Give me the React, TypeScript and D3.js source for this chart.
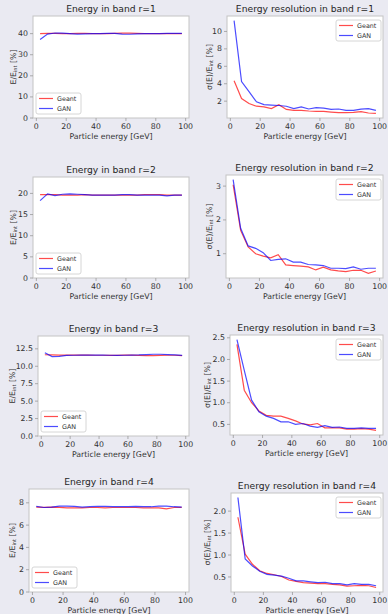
import * as d3 from "d3";

// particle energy bins [GeV]
const energies = [2.5, 7.5, 12.5, 17.5, 22.5, 27.5, 32.5, 37.5, 42.5, 47.5, 52.5, 57.5, 62.5, 67.5, 72.5, 77.5, 82.5, 87.5, 92.5, 97.5];
const xTicks = [0, 20, 40, 60, 80, 100];

// mean energy fraction in band [%]
const geantMean1 = [40.0, 40.1, 40.1, 40.0, 40.0, 40.1, 40.1, 40.0, 40.0, 40.0, 40.1, 40.2, 40.2, 40.1, 40.0, 40.0, 40.0, 40.0, 40.0, 40.0];
const ganMean1 = [37.2, 39.8, 40.3, 40.2, 40.0, 39.8, 39.9, 40.0, 40.0, 40.1, 40.1, 39.8, 39.7, 39.9, 40.0, 40.0, 40.0, 40.1, 40.1, 40.1];
const geantMean2 = [19.7, 19.7, 19.7, 19.6, 19.6, 19.6, 19.7, 19.6, 19.6, 19.6, 19.6, 19.6, 19.6, 19.6, 19.7, 19.7, 19.7, 19.6, 19.6, 19.6];
const ganMean2 = [18.3, 19.9, 19.5, 19.8, 19.9, 19.8, 19.7, 19.6, 19.6, 19.6, 19.6, 19.7, 19.7, 19.6, 19.6, 19.6, 19.6, 19.4, 19.6, 19.6];
const geantMean3 = [11.65, 11.62, 11.6, 11.6, 11.6, 11.6, 11.6, 11.58, 11.58, 11.57, 11.57, 11.6, 11.6, 11.55, 11.52, 11.52, 11.55, 11.58, 11.58, 11.52];
const ganMean3 = [11.95, 11.38, 11.42, 11.55, 11.58, 11.6, 11.6, 11.6, 11.6, 11.58, 11.55, 11.58, 11.6, 11.62, 11.68, 11.72, 11.72, 11.68, 11.62, 11.55];
const geantMean4 = [7.62, 7.6, 7.62, 7.6, 7.55, 7.55, 7.55, 7.58, 7.58, 7.55, 7.58, 7.58, 7.58, 7.58, 7.55, 7.55, 7.55, 7.45, 7.58, 7.6];
const ganMean4 = [7.68, 7.58, 7.62, 7.7, 7.7, 7.68, 7.62, 7.65, 7.68, 7.68, 7.65, 7.65, 7.65, 7.68, 7.65, 7.65, 7.7, 7.7, 7.65, 7.62];

// energy resolution in band [%]
const geantRes1 = [4.33, 2.3, 1.73, 1.42, 1.35, 1.15, 1.6, 1.05, 0.95, 0.95, 0.87, 0.83, 0.83, 0.75, 0.68, 0.68, 0.72, 0.8, 0.64, 0.6];
const ganRes1 = [11.24, 4.25, 3.1, 1.92, 1.6, 1.55, 1.5, 1.42, 1.15, 1.35, 1.1, 1.25, 1.2, 1.05, 1.1, 0.95, 0.95, 1.08, 1.15, 0.95];
const geantRes2 = [3.04, 1.69, 1.2, 1.0, 0.93, 0.88, 0.97, 0.67, 0.65, 0.63, 0.61, 0.52, 0.6, 0.52, 0.49, 0.47, 0.51, 0.51, 0.42, 0.49];
const ganRes2 = [3.19, 1.75, 1.23, 1.16, 1.03, 0.8, 0.83, 0.85, 0.75, 0.75, 0.68, 0.67, 0.65, 0.57, 0.57, 0.56, 0.61, 0.54, 0.57, 0.57];
const geantRes3 = [2.35, 1.29, 1.0, 0.81, 0.71, 0.69, 0.69, 0.64, 0.58, 0.51, 0.49, 0.52, 0.42, 0.42, 0.42, 0.39, 0.39, 0.4, 0.39, 0.36];
const ganRes3 = [2.46, 1.75, 1.06, 0.79, 0.69, 0.64, 0.56, 0.56, 0.5, 0.52, 0.46, 0.43, 0.47, 0.43, 0.44, 0.41, 0.41, 0.42, 0.41, 0.41];
const geantRes4 = [1.86, 1.02, 0.79, 0.64, 0.58, 0.55, 0.51, 0.43, 0.4, 0.37, 0.36, 0.35, 0.35, 0.33, 0.32, 0.29, 0.3, 0.31, 0.3, 0.26];
const ganRes4 = [2.31, 0.91, 0.75, 0.63, 0.56, 0.54, 0.52, 0.47, 0.41, 0.41, 0.39, 0.37, 0.38, 0.35, 0.35, 0.32, 0.35, 0.33, 0.33, 0.3];

// y tick labels
const meanTicks1 = [0, 10, 20, 30, 40];
const meanTicks2 = [0, 5, 10, 15, 20];
const meanTicks3 = [0, 2.5, 5, 7.5, 10, 12.5];
const meanTicks4 = [0, 2, 4, 6, 8];
const resTicks1 = [2, 4, 6, 8, 10];
const resTicks2 = [1, 2, 3];
const resTicks3 = [0.5, 1, 1.5, 2, 2.5];
const resTicks4 = [0.5, 1, 1.5, 2];

const series = ["Geant", "GAN"];
const colors = ["rgba(255,0,0,0.7)", "rgba(0,0,255,0.7)"];

type Panel = {
  title: string;
  kind: "mean" | "res";
  geant: number[];
  gan: number[];
  ticks: number[];
  fmt: (v: number) => string;
  box: { l: number; r: number; t: number; b: number; ylx: number };
};

const intFmt = (v: number) => d3.format("d")(v);
const oneDec = (v: number) => d3.format(".1f")(v);

const panels: Panel[] = [
  { title: "Energy in band r=1", kind: "mean", geant: geantMean1, gan: ganMean1, ticks: meanTicks1, fmt: intFmt, box: { l: 33, r: 189, t: 16, b: 118, ylx: 13 } },
  { title: "Energy resolution in band r=1", kind: "res", geant: geantRes1, gan: ganRes1, ticks: resTicks1, fmt: intFmt, box: { l: 227, r: 383, t: 16, b: 118, ylx: 209 } },
  { title: "Energy in band r=2", kind: "mean", geant: geantMean2, gan: ganMean2, ticks: meanTicks2, fmt: intFmt, box: { l: 33, r: 189, t: 177, b: 278, ylx: 13 } },
  { title: "Energy resolution in band r=2", kind: "res", geant: geantRes2, gan: ganRes2, ticks: resTicks2, fmt: intFmt, box: { l: 226, r: 383, t: 175, b: 278, ylx: 209 } },
  { title: "Energy in band r=3", kind: "mean", geant: geantMean3, gan: ganMean3, ticks: meanTicks3, fmt: oneDec, box: { l: 38, r: 189, t: 336, b: 436, ylx: 12 } },
  { title: "Energy resolution in band r=3", kind: "res", geant: geantRes3, gan: ganRes3, ticks: resTicks3, fmt: oneDec, box: { l: 230, r: 383, t: 335, b: 435, ylx: 207 } },
  { title: "Energy in band r=4", kind: "mean", geant: geantMean4, gan: ganMean4, ticks: meanTicks4, fmt: intFmt, box: { l: 29, r: 189, t: 489, b: 592, ylx: 12 } },
  { title: "Energy resolution in band r=4", kind: "res", geant: geantRes4, gan: ganRes4, ticks: resTicks4, fmt: oneDec, box: { l: 231, r: 383, t: 493, b: 592, ylx: 207 } },
];

const FONT = "DejaVu Sans";
const TEXT = "#333";
const FRAME = "#c4c4c4";

function ChartPanel({ p }: { p: Panel }) {
  const { l, r, t, b, ylx } = p.box;
  const x = d3.scaleLinear().domain([-2.25, 102.25]).range([l, r]);
  const all = p.geant.concat(p.gan);
  let yDomain: [number, number];
  if (p.kind === "mean") {
    yDomain = [0, 1.2 * (d3.max(all) as number)];
  } else {
    const lo = d3.min(all) as number;
    const hi = d3.max(all) as number;
    const pad = (hi - lo) * 0.05;
    yDomain = [lo - pad, hi + pad];
  }
  const y = d3.scaleLinear().domain(yDomain).range([b, t]);
  const line = d3
    .line<number>()
    .x((_, i) => x(energies[i]))
    .y((d) => y(d));

  const legendW = 45;
  const legendH = 21;
  const lx = p.kind === "mean" ? l + 3 : r - legendW - 2;
  const ly = p.kind === "mean" ? b - legendH - 4 : t + 4;

  return (
    <g>
      <rect x={l} y={t} width={r - l} height={b - t} fill="#fff" stroke={FRAME} strokeWidth={1} />
      <text x={(l + r) / 2} y={t - 4} textAnchor="middle" fontFamily={FONT} fontSize={9.2} fill="#262626">
        {p.title}
      </text>
      {xTicks.map((v) => (
        <g key={"x" + v}>
          <line x1={x(v)} x2={x(v)} y1={b} y2={b + 3} stroke="#999" strokeWidth={0.8} />
          <text x={x(v)} y={b + 11} textAnchor="middle" fontFamily={FONT} fontSize={7.8} fill={TEXT}>
            {v}
          </text>
        </g>
      ))}
      {p.ticks.map((v) => (
        <g key={"y" + v}>
          <line x1={l - 3} x2={l} y1={y(v)} y2={y(v)} stroke="#999" strokeWidth={0.8} />
          <text x={l - 5} y={y(v)} dy="0.33em" textAnchor="end" fontFamily={FONT} fontSize={7.8} fill={TEXT}>
            {p.fmt(v)}
          </text>
        </g>
      ))}
      <text x={(l + r) / 2} y={b + 21} textAnchor="middle" fontFamily={FONT} fontSize={7.8} fill={TEXT}>
        Particle energy [GeV]
      </text>
      <text
        transform={`translate(${ylx},${(t + b) / 2}) rotate(-90)`}
        textAnchor="middle"
        dominantBaseline="central"
        fontFamily={FONT}
        fontSize={7.8}
        fill={TEXT}
      >
        {p.kind === "mean" ? "E/E" : "σ(E)/E"}
        <tspan fontSize={5} dy="2">int</tspan>
        <tspan dy="-2"> [%]</tspan>
      </text>
      <path d={line(p.geant) ?? ""} fill="none" stroke={colors[0]} strokeWidth={1.2} />
      <path d={line(p.gan) ?? ""} fill="none" stroke={colors[1]} strokeWidth={1.2} />
      <g transform={`translate(${lx},${ly})`}>
        <rect x={0} y={0} width={legendW} height={legendH} rx={2} fill="#fff" stroke="#ccc" strokeWidth={0.8} />
        {series.map((s, i) => (
          <g key={s}>
            <line x1={3} x2={17} y1={5.5 + i * 10} y2={5.5 + i * 10} stroke={colors[i]} strokeWidth={1.2} />
            <text x={21} y={5.5 + i * 10} dy="0.35em" fontFamily={FONT} fontSize={6.4} fill={TEXT}>
              {s}
            </text>
          </g>
        ))}
      </g>
    </g>
  );
}

export default function App() {
  return (
    <svg
      width={388}
      height={614}
      style={{ position: "absolute", left: 0, top: 0, display: "block" }}
    >
      <rect x={0} y={0} width={388} height={614} fill="#eaeaf2" />
      {panels.map((p) => (
        <ChartPanel key={p.title} p={p} />
      ))}
    </svg>
  );
}
